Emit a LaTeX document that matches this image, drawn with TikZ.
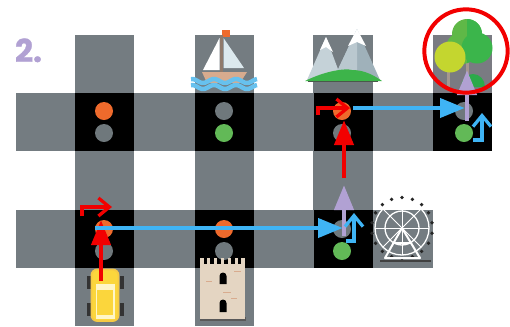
\documentclass[tikz,border=0pt]{standalone}
\usepackage{fontspec}
\newfontfamily\numfont[FakeBold=1]{Poppins Bold}
\usetikzlibrary{arrows.meta, positioning}

\definecolor{roadgray}{HTML}{747C81}
\definecolor{lampgray}{HTML}{6F787C}
\definecolor{lamporange}{HTML}{EE6A2C}
\definecolor{lampgreen}{HTML}{62B957}
\definecolor{routered}{HTML}{F20000}
\definecolor{routeblue}{HTML}{3FB4F5}
\definecolor{routelilac}{HTML}{B1A1D3}
\definecolor{towerbeige}{HTML}{E4D5C2}
\definecolor{wavecolor}{HTML}{67C1EE}
\definecolor{hulltan}{HTML}{D8AB8E}
\definecolor{mastbrown}{HTML}{8F7A6C}
\definecolor{sailblue}{HTML}{DCE9EE}
\definecolor{peaklight}{HTML}{C5D2D8}
\definecolor{peakdark}{HTML}{9FB1BA}
\definecolor{hillgreen}{HTML}{3DB44A}
\definecolor{leafleft}{HTML}{5FB847}
\definecolor{leafright}{HTML}{3BB54B}
\definecolor{leafyellow}{HTML}{C4D62F}
\definecolor{bushgreen}{HTML}{2BAA4A}
\definecolor{trunkbrown}{HTML}{A5978F}
\definecolor{duskgray}{HTML}{7A7B82}
\definecolor{taxiyellow}{HTML}{FBD63C}
\definecolor{taxirim}{HTML}{F6C944}
\definecolor{taxipale}{HTML}{FFF6C8}

\begin{document}
\begin{tikzpicture}[
  x=0.03cm, y=-0.03cm,
  every node/.style={inner sep=0pt, outer sep=0pt},
  road/.style={fill=roadgray},
  crossing/.style={fill=black, minimum width=1.77cm, minimum height=1.74cm},
  lamp/.style={circle, minimum size=0.54cm},
  flow/.style={-{Triangle[length=0.75cm, width=0.56cm]}, line width=4.2pt},
  turn/.style={-{Straight Barb[length=0.33cm, width=0.54cm]}, line width=2.8pt},
]
\useasboundingbox (0,0) rectangle (510,326);

% roads
\fill[road] (75,35) rectangle (134,326);
\fill[road] (195,35) rectangle (254,326);
\fill[road] (313,35) rectangle (373,268);
\fill[road] (16,93) rectangle (492,151);
\fill[road] (16,210) rectangle (433,268);

\node[text=routelilac, font=\fontsize{27}{27}\numfont, anchor=base west] (Num) at (15,62) {2.};

% crossings
\node[crossing] (C1) at (104.5,122) {};
\node[crossing] (C2) at (224.5,122) {};
\node[crossing] (C3) at (343,122) {};
\node[crossing] (C4) at (462.5,122) {};
\node[crossing] (C5) at (104.5,239) {};
\node[crossing] (C6) at (224.5,239) {};
\node[crossing] (C7) at (343,239) {};

% traffic lights
\node[lamp, fill=lamporange] (L1a) at (104,111) {};
\node[lamp, fill=lampgray] (L1b) [below=0.12cm of L1a] {};
\node[lamp, fill=lampgray] (L2a) at (224,111) {};
\node[lamp, fill=lampgreen] (L2b) [below=0.12cm of L2a] {};
\node[lamp, fill=lamporange] (L3a) at (342,111) {};
\node[lamp, fill=lampgray] (L3b) [below=0.12cm of L3a] {};
\node[lamp, fill=lampgray] (L4a) at (464,111) {};
\node[lamp, fill=lampgreen] (L4b) [below=0.12cm of L4a] {};
\node[lamp, fill=lamporange] (L5a) at (104,229) {};
\node[lamp, fill=lampgray] (L5b) [below=0.12cm of L5a] {};
\node[lamp, fill=lamporange] (L6a) at (224,229) {};
\node[lamp, fill=lampgray] (L6b) [below=0.12cm of L6a] {};
\node[lamp, fill=lampgray] (L7a) at (342,229) {};
\node[lamp, fill=lampgreen] (L7b) [below=0.12cm of L7a] {};

% sailboat
\fill[lamporange] (222,30) rectangle (230,37);
\fill[mastbrown] (220.3,35) rectangle (222.6,72);
\fill[white] (219.5,38) -- (203,70) -- (219.5,70) -- cycle;
\fill[sailblue] (223.5,38) -- (244,68) -- (223.5,68) -- cycle;
\fill[hulltan] (202,72) -- (247,72) -- (240,83) -- (207,83) -- cycle;
\draw[wavecolor, line width=3.8pt] plot[domain=191:257, samples=50] (\x,{81+2*sin(\x*16.4)});
\draw[wavecolor, line width=3.8pt] plot[domain=191:257, samples=50] (\x,{87+2*sin(\x*16.4)});

% mountains
\fill[peaklight] (326,37) -- (307,80) -- (342,80) -- cycle;
\fill[white] (326,37) -- (320,50) -- (326,47) -- (333,52) -- cycle;
\fill[peakdark] (357,29) -- (333,80) -- (380,80) -- cycle;
\fill[peaklight!70!peakdark] (357,29) -- (333,80) -- (357,80) -- cycle;
\fill[white] (357,29) -- (348,46) -- (357,42) -- (366,46) -- cycle;
\fill[black!70] (308,80) rectangle (378,82);
\fill[hillgreen] (305,81) .. controls (325,71) and (345,68) .. (352,70) .. controls (365,70) and (375,76) .. (382,81) -- cycle;

% tree
\fill[duskgray] (433,35) rectangle (492,93);
\fill[trunkbrown] (447,70) rectangle (450,90);
\fill[trunkbrown] (466,60) rectangle (469,78);
\fill[bushgreen] (461,87) arc[start angle=180, end angle=0, x radius=12, y radius=-13] -- cycle;
\fill[leafleft] (467,34) circle (15);
\fill[leafleft] (462,48) circle (16);
\fill[leafright] (477,48) circle (15.5);
\begin{scope}
  \clip (467,15) rectangle (495,70);
  \fill[leafright] (467,34) circle (15);
  \fill[leafright] (462,48) circle (16);
\end{scope}
\fill[leafyellow] (450,57) circle (15.5);

% tower
\fill[black!65] (200,317) rectangle (246,321);
\fill[towerbeige] (200,264) rectangle (245,319);
\foreach \i in {0,...,6} {
  \fill[towerbeige] (200+\i*6.9,258) rectangle ++(3.5,7);
}
\fill[black] (219.5,284) -- (219.5,276) arc[start angle=180, end angle=0, radius=3.5, y radius=-3.5] -- (226.5,284) -- cycle;
\fill[black] (219.5,312) -- (219.5,303) arc[start angle=180, end angle=0, radius=3.5, y radius=-3.5] -- (226.5,312) -- cycle;
\draw[hulltan, line width=0.7pt] (234,271) -- (241,271) (206,281) -- (212,281) (223,292) -- (231,292) (231,298) -- (237,298);

% ferris wheel
\draw[white, line width=1.1pt] (402,228) circle (27) (402,228) circle (17);
\foreach \a in {0,45,...,315} {
  \draw[white, line width=0.8pt] (402,228) -- ++({27*cos(\a)},{27*sin(\a)});
}
\foreach \a in {10,30,...,350} {
  \fill[black!85] ({402+30.5*cos(\a)},{228+30.5*sin(\a)}) circle (1.9);
}
\draw[white, line width=1.7pt, line join=round] (385,258) -- (402,228) -- (420,258) -- cycle;
\draw[white, line width=1.3pt] (393,243) -- (411,243);
\fill[black!75] (380,260) rectangle (431,261.5);

% taxi
\foreach \y in {276,303} {
  \fill[black!80] (87,\y) rectangle (91,{\y+13});
  \fill[black!80] (120,\y) rectangle (124,{\y+13});
}
\fill[taxiyellow, rounded corners=5pt, draw=taxirim, line width=1.6pt] (91.5,269.5) rectangle (118.5,321);
\draw[taxipale, line width=0.9pt] (96.5,285) rectangle (114,318);
\fill[taxipale] (96.5,285) rectangle (114,289.5);
\fill[taxipale] (96.5,315) rectangle (114,319);

% route markers
\coordinate (TaxiFront) at (101,281);
\coordinate (TaxiTip) at (101,220);
\coordinate (TurnAStart) at (82,216);
\coordinate (TurnAEnd) at (112,207);
\coordinate (BlueAStart) at (95,228);
\coordinate (BlueAEnd) at (343,228);
\coordinate (LilacAStart) at (344,236);
\coordinate (LilacAEnd) at (344,185);
\coordinate (TurnBStart) at (346,241);
\coordinate (TurnBEnd) at (354,213);
\coordinate (RedBStart) at (344,178);
\coordinate (RedBEnd) at (344,120);
\coordinate (TurnCStart) at (318,115);
\coordinate (TurnCEnd) at (350,108);
\coordinate (BlueBStart) at (353,108);
\coordinate (BlueBEnd) at (465,108);
\coordinate (LilacBStart) at (467,121);
\coordinate (LilacBEnd) at (467,70);
\coordinate (TurnDStart) at (473,140);
\coordinate (TurnDEnd) at (482,113);

\draw[flow, routered] (TaxiFront) -- (TaxiTip);
\draw[turn, routered] (TurnAStart) |- (TurnAEnd);
\draw[flow, routeblue] (BlueAStart) -- (BlueAEnd);
\draw[flow, routelilac] (LilacAStart) -- (LilacAEnd);
\draw[turn, routeblue] (TurnBStart) -| (TurnBEnd);
\draw[flow, routered] (RedBStart) -- (RedBEnd);
\draw[turn, routered] (TurnCStart) |- (TurnCEnd);
\draw[flow, routeblue] (BlueBStart) -- (BlueBEnd);
\draw[flow, routelilac] (LilacBStart) -- (LilacBEnd);
\draw[turn, routeblue] (TurnDStart) -| (TurnDEnd);

% target ring
\node[draw=routered, line width=3.4pt, circle, minimum size=2.5cm] (Goal) at (466,51) {};
\end{tikzpicture}
\end{document}
